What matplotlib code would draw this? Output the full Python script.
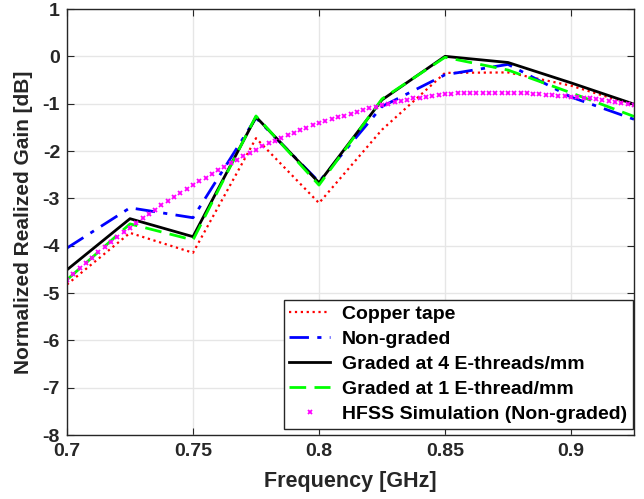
import numpy as np
import matplotlib
matplotlib.use("Agg")
import matplotlib.pyplot as plt

plt.rcParams['font.family'] = ['Liberation Sans', 'DejaVu Sans']
plt.rcParams['font.weight'] = 'bold'
plt.rcParams['axes.unicode_minus'] = False

# measured frequencies (GHz)
freq = [0.7, 0.725, 0.75, 0.775, 0.8, 0.825, 0.85, 0.875, 0.9, 0.925]

copper = [-4.82, -3.73, -4.15, -1.73, -3.10, -1.55, -0.35, -0.34, -0.62, -1.03]
non_graded = [-4.05, -3.20, -3.41, -1.30, -2.65, -1.06, -0.39, -0.17, -0.86, -1.33]
graded_4 = [-4.51, -3.43, -3.81, -1.28, -2.67, -0.92, 0.00, -0.13, -0.56, -1.01]
graded_1 = [-4.72, -3.54, -3.88, -1.26, -2.72, -0.90, -0.02, -0.29, -0.77, -1.27]

# HFSS simulation, sampled every 2.5 MHz
sim_freq = [0.7 + 0.0025 * i for i in range(91)]
sim_gain = [
    -4.72, -4.60, -4.48, -4.36, -4.25, -4.14, -4.03, -3.92, -3.82, -3.72,
    -3.62, -3.52, -3.42, -3.33, -3.24, -3.15, -3.06, -2.97, -2.89, -2.80,
    -2.72, -2.64, -2.56, -2.48, -2.40, -2.33, -2.25, -2.18, -2.11, -2.04,
    -1.97, -1.90, -1.84, -1.78, -1.72, -1.66, -1.61, -1.56, -1.51, -1.46,
    -1.41, -1.37, -1.33, -1.29, -1.25, -1.21, -1.17, -1.13, -1.10, -1.06,
    -1.03, -1.00, -0.97, -0.94, -0.92, -0.89, -0.87, -0.85, -0.83, -0.81,
    -0.80, -0.79, -0.78, -0.78, -0.77, -0.77, -0.77, -0.77, -0.77, -0.77,
    -0.77, -0.77, -0.78, -0.78, -0.79, -0.80, -0.81, -0.82, -0.83, -0.84,
    -0.85, -0.86, -0.88, -0.89, -0.91, -0.93, -0.95, -0.97, -0.99, -1.01,
    -1.03,
]

fig = plt.figure(figsize=(6.44, 4.99), dpi=100)
ax = fig.add_axes([67 / 644, 1 - 435 / 499, (634 - 67) / 644, (435 - 9) / 499])

ax.plot(freq, copper, color='red', linestyle=':', linewidth=1.6, label='Copper tape')
ax.plot(freq, non_graded, color='blue', linestyle=(0, (7, 3, 1.5, 3)), linewidth=2, label='Non-graded')
ax.plot(freq, graded_4, color='black', linestyle='-', linewidth=2, label='Graded at 4 E-threads/mm')
ax.plot(freq, graded_1, color='#00ff00', linestyle=(0, (6, 3)), linewidth=2, label='Graded at 1 E-thread/mm')
ax.plot(sim_freq, sim_gain, color='magenta', linestyle='none', marker='x', markersize=3.5,
        markeredgewidth=1.3, label='HFSS Simulation (Non-graded)')

ax.set_xlim(0.7, 0.925)
ax.set_ylim(-8, 1)
ax.set_xticks([0.7, 0.75, 0.8, 0.85, 0.9])
ax.set_xticklabels(['0.7', '0.75', '0.8', '0.85', '0.9'])
ax.set_yticks(range(-8, 2))
ax.grid(True, color='#e6e6e6', linewidth=1)
ax.set_axisbelow(True)
ax.tick_params(direction='in', top=True, right=True, labelsize=14, length=5, colors='#262626')
ax.tick_params(axis='x', pad=6)
ax.tick_params(axis='y', pad=5)
for s in ax.spines.values():
    s.set_color('#262626')
    s.set_linewidth(1)

ax.set_xlabel('Frequency [GHz]', fontsize=15.5, fontweight='bold', color='#262626', labelpad=8)
ax.set_ylabel('Normalized Realized Gain [dB]', fontsize=15, fontweight='bold', color='#262626', labelpad=7)

leg = ax.legend(loc='lower right', bbox_to_anchor=(0.998, 0.014), borderaxespad=0,
                fontsize=14, handlelength=2.1, fancybox=False, framealpha=1,
                edgecolor='#262626', borderpad=0.3, labelspacing=0.38, handletextpad=0.6)
leg.get_frame().set_linewidth(1)

fig.savefig('out.png', dpi=100)
